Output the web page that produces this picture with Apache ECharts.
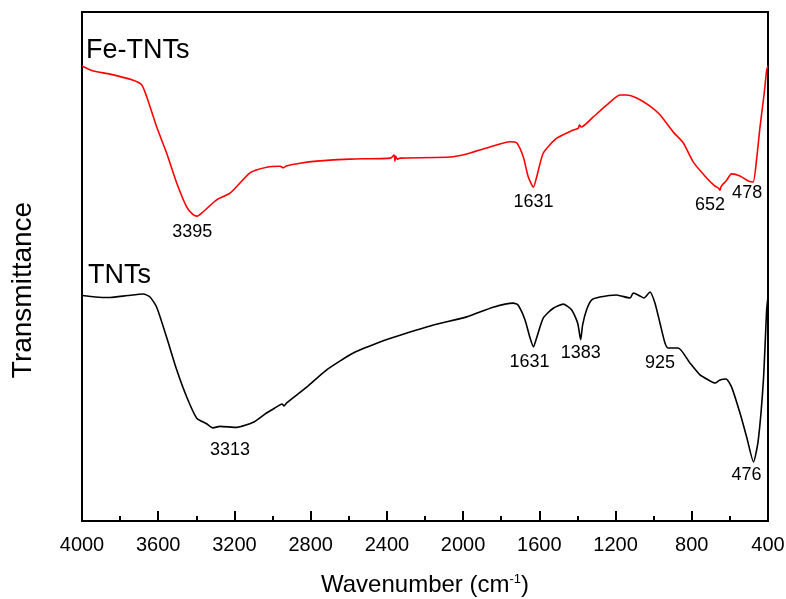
<!DOCTYPE html>
<html>
<head>
<meta charset="utf-8">
<script src="https://cdn.jsdelivr.net/npm/echarts@6/dist/echarts.min.js"></script>
<style>
  html, body { margin: 0; padding: 0; background: #fff; }
  #chart { width: 786px; height: 599px; }
</style>
</head>
<body>
<div id="chart"></div>
<script>
// FT-IR spectra, transmittance in arbitrary units vs wavenumber (cm-1)
const feWavenumber = [4000, 3940, 3853, 3731, 3687, 3660, 3608, 3556, 3503, 3451, 3420, 3395, 3372, 3293, 3223, 3118, 3031, 2960, 2944, 2925, 2856, 2768, 2594, 2380, 2362, 2358, 2354, 2346, 2331, 2069, 1981, 1876, 1754, 1719, 1684, 1658, 1631, 1614, 1579, 1509, 1422, 1395, 1390, 1380, 1317, 1247, 1177, 1142, 1089, 1019, 967, 897, 845, 792, 722, 678, 660, 652, 645, 620, 591, 547, 503, 478, 460, 442, 420, 407, 400];
const feTransmittance = [89.4, 88.4, 87.8, 86.6, 85.7, 83.3, 77.4, 72.3, 66.4, 61.7, 60.3, 59.9, 60.5, 63.1, 64.4, 68.4, 69.5, 69.7, 69.4, 69.8, 70.3, 70.7, 71.1, 71.3, 71.9, 70.7, 71.7, 71.1, 71.3, 71.5, 72.1, 73.3, 74.5, 74.3, 71.5, 67.6, 65.6, 67.6, 72.3, 75.2, 76.8, 77.2, 77.8, 77.4, 79.4, 81.7, 83.7, 83.7, 83.1, 81.5, 79.8, 76.4, 74.3, 70.5, 67.4, 65.8, 65.4, 65.0, 65.8, 66.8, 68.2, 67.8, 66.8, 66.6, 71.0, 77.4, 84.0, 88.6, 89.4];

const tntWavenumber = [4000, 3930, 3853, 3760, 3678, 3643, 3608, 3556, 3503, 3451, 3398, 3346, 3313, 3276, 3188, 3101, 3040, 2996, 2950, 2940, 2926, 2821, 2716, 2576, 2419, 2331, 2156, 1981, 1842, 1737, 1711, 1675, 1649, 1631, 1614, 1579, 1527, 1475, 1431, 1399, 1383, 1373, 1352, 1326, 1282, 1195, 1124, 1107, 1072, 1051, 1019, 993, 967, 941, 925, 871, 809, 757, 722, 678, 652, 620, 591, 547, 512, 476, 451, 424, 407, 400];
const tntTransmittance = [44.3, 44.0, 43.9, 44.3, 44.6, 44.0, 42.0, 36.1, 29.7, 24.4, 20.2, 19.1, 18.3, 18.6, 18.4, 19.4, 21.0, 22.0, 23.0, 22.6, 23.2, 26.3, 29.7, 33.0, 35.4, 36.5, 38.5, 40.1, 42.0, 42.8, 42.4, 39.5, 36.0, 34.2, 36.0, 39.9, 41.8, 42.6, 41.5, 38.9, 35.6, 38.5, 41.5, 43.4, 44.0, 44.4, 43.8, 44.8, 44.2, 43.8, 45.0, 42.8, 38.9, 35.0, 34.0, 34.0, 31.0, 28.7, 27.9, 27.1, 27.7, 27.9, 26.3, 21.2, 16.5, 11.6, 15.9, 27.7, 41.5, 44.0];

// Labelled absorption bands
const fePeaks = [3395, 1631, 652, 478];
const tntPeaks = [3313, 1631, 1383, 925, 476];

const xTicks = [4000, 3600, 3200, 2800, 2400, 2000, 1600, 1200, 800, 400];

// label placement relative to each band minimum (pixels)
const fePeakOffsets = { 3395: [-5, 16], 1631: [0, 15], 652: [-10, 15], 478: [-6, 11] };
const tntPeakOffsets = { 3313: [17, 22], 1631: [-4, 15], 1383: [0, 13], 925: [-8, 15], 476: [-7, 13] };

const FONT = '"Liberation Sans", Arial, Helvetica, sans-serif';

function pairs(xs, ys) { return xs.map((x, i) => [x, ys[i]]); }

function peakMarks(xs, ys, peaks, offsets) {
  return peaks.map(p => {
    const i = xs.indexOf(p);
    return {
      coord: [p, ys[i]],
      value: p,
      label: { offset: offsets[p] }
    };
  });
}

function peakMarkPoint(xs, ys, peaks, offsets) {
  return {
    silent: true,
    symbol: 'circle',
    symbolSize: 0,
    itemStyle: { color: 'transparent' },
    label: {
      show: true, position: 'inside', formatter: p => String(p.value),
      color: '#000', fontSize: 18, fontFamily: FONT
    },
    data: peakMarks(xs, ys, peaks, offsets)
  };
}

const chart = echarts.init(document.getElementById('chart'), null, { renderer: 'canvas' });

chart.setOption({
  animation: false,
  backgroundColor: '#fff',
  grid: {
    left: 82, right: 18, top: 12, bottom: 78, containLabel: false, outerBoundsMode: 'none',
    show: true, borderColor: '#000', borderWidth: 2, backgroundColor: 'transparent'
  },
  xAxis: {
    type: 'value', min: 400, max: 4000, interval: 400, inverse: true,
    name: 'Wavenumber (cm{sup|-1})', nameLocation: 'middle', nameGap: 52,
    nameTextStyle: { fontSize: 24, color: '#000', fontFamily: FONT, rich: { sup: { fontSize: 13, color: '#000', fontFamily: FONT, padding: [0, 0, 12, 0] } } },
    axisLine: { show: true, lineStyle: { color: '#000', width: 2 } },
    axisTick: { show: true, inside: true, length: 10, lineStyle: { color: '#000', width: 2 } },
    minorTick: { show: true, splitNumber: 2, length: 5, lineStyle: { color: '#000', width: 2 } },
    axisLabel: { color: '#000', fontSize: 20, fontFamily: FONT, margin: 14, formatter: v => String(v) },
    splitLine: { show: false }
  },
  yAxis: {
    type: 'value', min: 0, max: 100,
    axisLine: { show: true, lineStyle: { color: '#000', width: 2 } },
    axisTick: { show: false }, axisLabel: { show: false }, splitLine: { show: false }
  },
  graphic: [
    { type: 'text', x: 23, y: 290, rotation: Math.PI / 2, style: { text: 'Transmittance', fontSize: 28, fill: '#000', fontFamily: FONT, align: 'center', verticalAlign: 'middle' } },
    { type: 'text', left: 86, top: 37, style: { text: 'Fe-TNTs', fontSize: 27, fill: '#000', fontFamily: FONT } },
    { type: 'text', left: 88, top: 262, style: { text: 'TNTs', fontSize: 27, fill: '#000', fontFamily: FONT } }
  ],
  series: [
    {
      name: 'Fe-TNTs', type: 'line', data: pairs(feWavenumber, feTransmittance),
      showSymbol: false, symbol: 'none', smooth: 0.2,
      lineStyle: { color: '#ff0000', width: 1.6 },
      markPoint: peakMarkPoint(feWavenumber, feTransmittance, fePeaks, fePeakOffsets)
    },
    {
      name: 'TNTs', type: 'line', data: pairs(tntWavenumber, tntTransmittance),
      showSymbol: false, symbol: 'none', smooth: 0.2,
      lineStyle: { color: '#000', width: 1.6 },
      markPoint: peakMarkPoint(tntWavenumber, tntTransmittance, tntPeaks, tntPeakOffsets)
    }
  ]
});
</script>
</body>
</html>
